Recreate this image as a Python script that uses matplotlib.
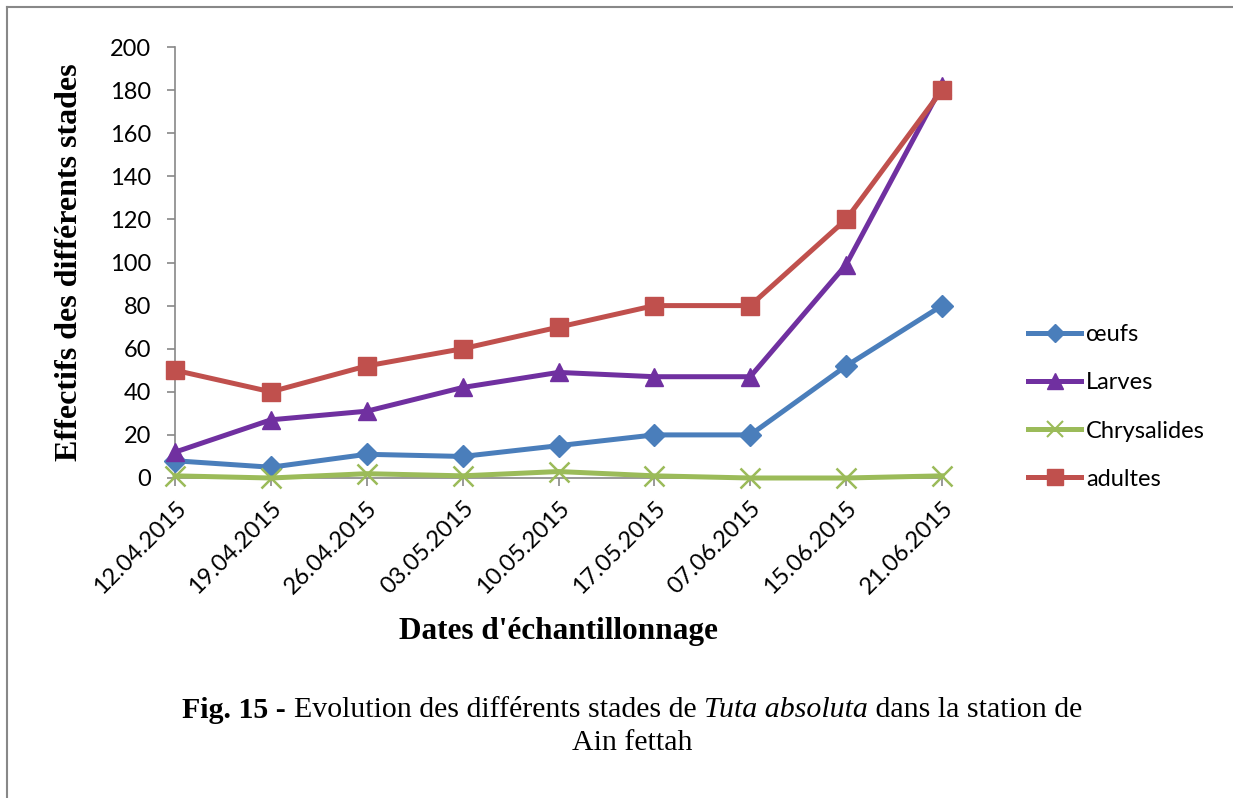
import matplotlib
matplotlib.use("Agg")
import matplotlib.pyplot as plt
from matplotlib.lines import Line2D

dates = ["12.04.2015", "19.04.2015", "26.04.2015", "03.05.2015", "10.05.2015",
         "17.05.2015", "07.06.2015", "15.06.2015", "21.06.2015"]
oeufs = [8, 5, 11, 10, 15, 20, 20, 52, 80]
larves = [12, 27, 31, 42, 49, 47, 47, 99, 182]
chrysalides = [1, 0, 2, 1, 3, 1, 0, 0, 1]
adultes = [50, 40, 52, 60, 70, 80, 80, 120, 180]
yticks = list(range(0, 201, 20))

series = [
    ("œufs", oeufs, "#4A7EBB", "D", 11),
    ("Larves", larves, "#7030A0", "^", 13),
    ("Chrysalides", chrysalides, "#9BBB59", "x", 14),
    ("adultes", adultes, "#C0504D", "s", 13),
]

fig = plt.figure(figsize=(12.33, 7.98), dpi=100)
ax = fig.add_axes([175 / 1233, 1 - 478 / 798, (942 - 175) / 1233, (478 - 47) / 798])

x = list(range(len(dates)))
handles = []
for name, vals, col, mk, ms in series:
    ax.plot(x, vals, color=col, lw=3.6, marker=mk, ms=ms, mec=col, mfc=col,
            mew=1.8 if mk == "x" else 1, clip_on=False, zorder=3)
    handles.append(Line2D([], [], color=col, lw=3.6, marker=mk, ms=ms * 0.85,
                          mec=col, mfc=col, mew=1.5 if mk == "x" else 1))

ax.set_xlim(0, len(dates) - 1)
ax.set_ylim(0, 200)
ax.set_yticks(yticks)
ax.set_xticks(x)
ax.set_xticklabels(dates, rotation=45, ha="right", va="top",
                   rotation_mode="anchor", family="Lato", fontsize=17)
for lab in ax.get_yticklabels():
    lab.set_family("Lato")
    lab.set_fontsize(17)
for s in ["top", "right"]:
    ax.spines[s].set_visible(False)
for s in ["left", "bottom"]:
    ax.spines[s].set_color("#888888")
    ax.spines[s].set_linewidth(1.2)
    ax.spines[s].set_zorder(2)
ax.tick_params(axis="both", direction="out", length=6, width=1.2,
               color="#888888")
ax.tick_params(axis="y", pad=11)
ax.tick_params(axis="x", pad=8)

ax.set_ylabel("Effectifs des différents stades", family="Liberation Serif",
              fontweight="bold", fontsize=23, labelpad=19)
fig.text(558 / 1233, 1 - 632 / 798, "Dates d'échantillonnage",
         family="Liberation Serif", fontweight="bold", fontsize=22.5,
         ha="center", va="center")

fig.legend(handles=handles, labels=[s[0] for s in series],
           loc="upper left", bbox_to_anchor=(1007 / 1233, 1 - 303 / 798),
           frameon=False, prop={"family": "Lato", "size": 17},
           handlelength=2.25, labelspacing=1.15, handletextpad=0.2)

# caption built from pieces: bold, regular and italic runs
fig.canvas.draw()
renderer = fig.canvas.get_renderer()
pieces = [("Fig. 15 - ", "bold", "normal"),
          ("Evolution des différents stades de ", "normal", "normal"),
          ("Tuta absoluta", "normal", "italic"),
          (" dans la station de", "normal", "normal")]
y1 = 1 - 710 / 798
texts = []
for txt, w, st in pieces:
    t = fig.text(0, y1, txt, family="Liberation Serif", fontweight=w,
                 fontstyle=st, fontsize=21.5, ha="left", va="center")
    texts.append(t)
widths = [t.get_window_extent(renderer).width for t in texts]
total = sum(widths)
xpos = 632 - total / 2
for t, wd in zip(texts, widths):
    t.set_x(xpos / 1233)
    xpos += wd
fig.text(632 / 1233, 1 - 743 / 798, "Ain fettah", family="Liberation Serif",
         fontsize=21.5, ha="center", va="center")

# thin frame on the left and top edges
fig.add_artist(Line2D([7 / 1233, 7 / 1233], [0, 1 - 7 / 798],
                      color="#888888", lw=1.5, transform=fig.transFigure))
fig.add_artist(Line2D([7 / 1233, 1], [1 - 7 / 798, 1 - 7 / 798],
                      color="#888888", lw=1.5, transform=fig.transFigure))

fig.savefig("out.png", dpi=100)
